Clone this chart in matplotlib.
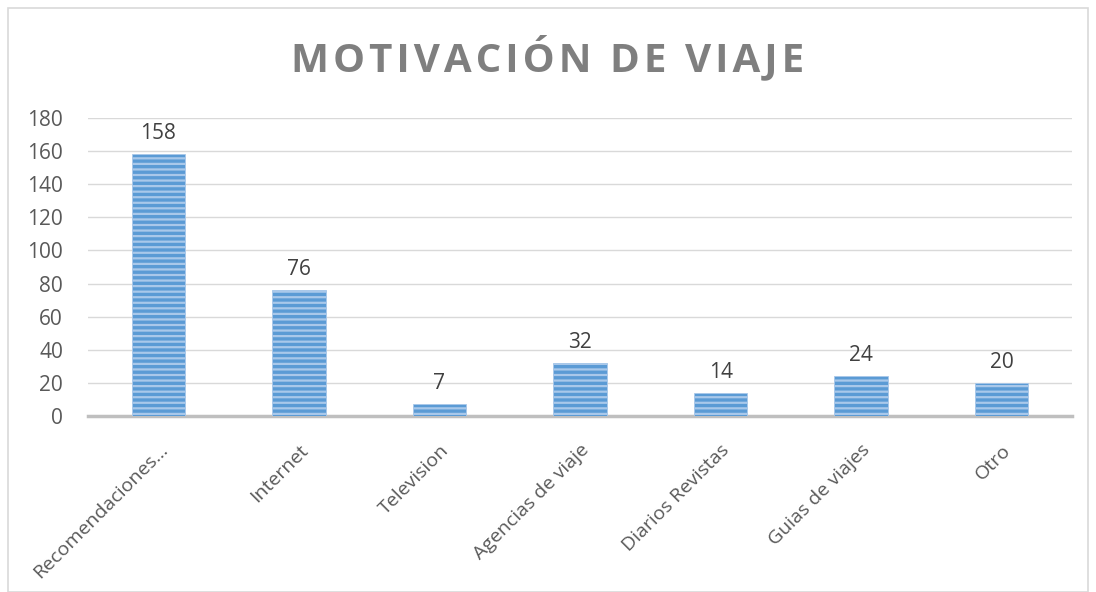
import matplotlib.pyplot as plt
from matplotlib.patches import Rectangle

categories = ["Recomendaciones…", "Internet", "Television", "Agencias de viaje",
              "Diarios Revistas", "Guias de viajes", "Otro"]
values = [158, 76, 7, 32, 14, 24, 20]

plt.rcParams['font.family'] = ['Open Sans', 'DejaVu Sans']
plt.rcParams['hatch.linewidth'] = 1.6
plt.rcParams['hatch.color'] = '#E8F1FB'

fig = plt.figure(figsize=(10.96, 5.92), dpi=100)
ax = fig.add_axes([88 / 1096, 1 - 416 / 592, 984 / 1096, 298 / 592])

x = range(len(categories))
bars = ax.bar(x, values, width=0.38, color="#5B9BD5", edgecolor="#A9C8EA",
              linewidth=0.6, hatch="---", zorder=3)
for b, v in zip(bars, values):
    ax.text(b.get_x() + b.get_width() / 2, v + 6, str(v), ha="center", va="bottom",
            fontsize=15, color="#404040")

ax.set_xlim(-0.5, len(categories) - 0.5)
ax.set_ylim(0, 180)
ax.set_yticks(range(0, 181, 20))
ax.yaxis.grid(True, color="#D9D9D9", linewidth=1, zorder=0)
ax.set_axisbelow(True)
for s in ["top", "right", "left"]:
    ax.spines[s].set_visible(False)
ax.spines["bottom"].set_color("#BFBFBF")
ax.spines["bottom"].set_linewidth(2.5)
ax.tick_params(axis="y", length=0, labelsize=15, labelcolor="#595959", pad=18)
ax.tick_params(axis="x", length=0, labelsize=14, labelcolor="#595959", pad=18)
ax.set_xticks(list(x))
ax.set_xticklabels(categories, rotation=45, ha="right", va="top", rotation_mode="anchor")

title = " \u2009".join("\u200a".join(w) for w in ["MOTIVACIÓN", "DE", "VIAJE"])
fig.text(0.5, 1 - 57 / 592, title,
         ha="center", va="center", fontsize=29, fontweight="bold", color="#7F7F7F")

fig.patches.append(Rectangle((8 / 1096, 0.0), 1 - 16 / 1096, 1 - 8 / 592, transform=fig.transFigure,
                             fill=False, edgecolor="#D9D9D9", linewidth=1.2))

plt.savefig("out.png", dpi=100)
